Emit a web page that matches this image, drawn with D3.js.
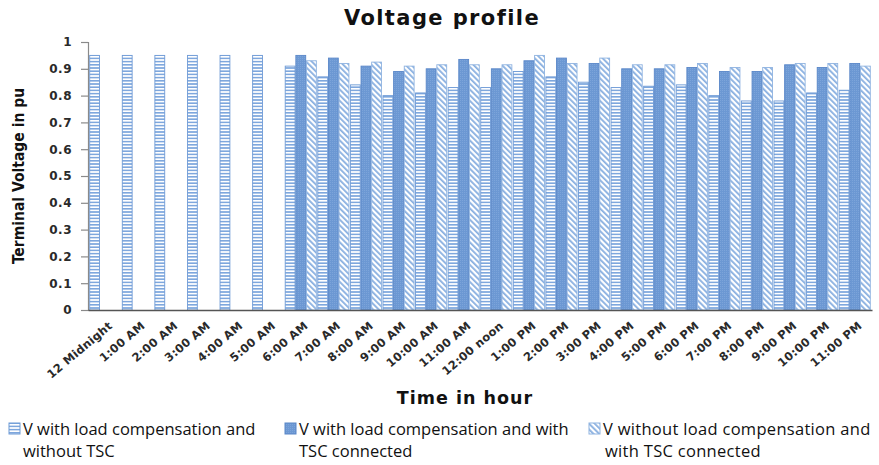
<!DOCTYPE html>
<html>
<head>
<meta charset="utf-8">
<script src="https://cdn.jsdelivr.net/npm/d3@7/dist/d3.min.js"></script>
<style>
  html, body { margin: 0; padding: 0; background: #fff; }
  svg { display: block; }
</style>
</head>
<body>
<svg id="chart" width="879" height="465"></svg>
<script>
// Hourly terminal voltage (pu) over one day
const hours = ["12 Midnight", "1:00 AM", "2:00 AM", "3:00 AM", "4:00 AM", "5:00 AM",
  "6:00 AM", "7:00 AM", "8:00 AM", "9:00 AM", "10:00 AM", "11:00 AM", "12:00 noon",
  "1:00 PM", "2:00 PM", "3:00 PM", "4:00 PM", "5:00 PM", "6:00 PM", "7:00 PM",
  "8:00 PM", "9:00 PM", "10:00 PM", "11:00 PM"];

const withLoadCompNoTSC = [0.95, 0.95, 0.95, 0.95, 0.95, 0.95,
  0.91, 0.87, 0.84, 0.80, 0.81, 0.83, 0.83, 0.89, 0.87, 0.85, 0.83, 0.835,
  0.84, 0.80, 0.78, 0.78, 0.81, 0.82];

const withLoadCompWithTSC = [null, null, null, null, null, null,
  0.95, 0.94, 0.91, 0.89, 0.90, 0.935, 0.90, 0.93, 0.94, 0.92, 0.90, 0.90,
  0.905, 0.89, 0.89, 0.915, 0.905, 0.92];

const noLoadCompWithTSC = [null, null, null, null, null, null,
  0.93, 0.92, 0.925, 0.91, 0.915, 0.915, 0.915, 0.95, 0.92, 0.94, 0.915, 0.915,
  0.92, 0.905, 0.905, 0.92, 0.92, 0.91];

const seriesNames = [
  ["V with load compensation and", "without TSC"],
  ["V with load compensation and with", "TSC connected"],
  ["V without load compensation and", "with TSC connected"]
];

const yTicks = [0, 0.1, 0.2, 0.3, 0.4, 0.5, 0.6, 0.7, 0.8, 0.9, 1];

const series = [withLoadCompNoTSC, withLoadCompWithTSC, noLoadCompWithTSC];

const svg = d3.select("#chart");
const plot = { left: 88, right: 872, top: 42, bottom: 310 };

// Fill patterns: horizontal stripes, dense solid, downward diagonal
const defs = svg.append("defs");
const pH = defs.append("pattern").attr("id", "pat-h")
  .attr("patternUnits", "userSpaceOnUse").attr("width", 4).attr("height", 3.2);
pH.append("rect").attr("width", 4).attr("height", 3.2).attr("fill", "#ffffff");
pH.append("rect").attr("y", 0).attr("width", 4).attr("height", 1.6).attr("fill", "#7ea7dd");

const pD = defs.append("pattern").attr("id", "pat-d")
  .attr("patternUnits", "userSpaceOnUse").attr("width", 4).attr("height", 4)
  .attr("patternTransform", "rotate(-45)");
pD.append("rect").attr("width", 4).attr("height", 4).attr("fill", "#ffffff");
pD.append("rect").attr("x", 0).attr("width", 1.8).attr("height", 4).attr("fill", "#88afe0");

const pS = defs.append("pattern").attr("id", "pat-s")
  .attr("patternUnits", "userSpaceOnUse").attr("width", 2).attr("height", 2);
pS.append("rect").attr("width", 2).attr("height", 2).attr("fill", "#6c98d3");
pS.append("rect").attr("width", 1).attr("height", 1).attr("fill", "#7ca4da");

const fills = ["url(#pat-h)", "url(#pat-s)", "url(#pat-d)"];
const strokes = ["#6f9bd6", "#5a87c8", "#8fb3e0"];

const x = d3.scaleBand().domain(hours).range([plot.left, plot.right])
  .paddingInner(0.02).paddingOuter(0.04);
const xs = d3.scaleBand().domain([0, 1, 2]).range([0, x.bandwidth()]).padding(0);
const y = d3.scaleLinear().domain([0, 1]).range([plot.bottom, plot.top]);

// Bars
series.forEach((vals, si) => {
  svg.append("g").selectAll("rect")
    .data(vals.map((v, i) => ({ h: hours[i], v })).filter(d => d.v !== null))
    .join("rect")
    .attr("x", d => x(d.h) + xs(si) + 0.4)
    .attr("y", d => y(d.v))
    .attr("width", xs.bandwidth() - 0.8)
    .attr("height", d => y(0) - y(d.v))
    .attr("fill", fills[si])
    .attr("stroke", strokes[si])
    .attr("stroke-width", 0.9);
});

// Y axis
const yAxis = d3.axisLeft(y).tickValues(yTicks)
  .tickFormat(d => d === 0 || d === 1 ? d3.format("d")(d) : d3.format(".1f")(d))
  .tickSize(7).tickPadding(9);
const gy = svg.append("g").attr("transform", `translate(${plot.left},0)`).call(yAxis);
gy.select(".domain").attr("stroke", "#8a8a8a").attr("stroke-width", 1.2);
gy.selectAll(".tick line").attr("stroke", "#8a8a8a").attr("stroke-width", 1.2);
gy.selectAll(".tick text")
  .attr("font-family", "DejaVu Sans, Verdana, sans-serif")
  .attr("font-size", 12).attr("font-weight", "bold").attr("fill", "#2a2a2a")
  .attr("letter-spacing", 0.5);

// X axis
const xAxis = d3.axisBottom(x).tickSize(0).tickPadding(0);
const gx = svg.append("g").attr("transform", `translate(0,${plot.bottom})`).call(xAxis);
gx.select(".domain").attr("stroke", "#555").attr("stroke-width", 1.6);
gx.selectAll(".tick text")
  .attr("font-family", "DejaVu Sans, Verdana, sans-serif")
  .attr("font-size", 11.5).attr("font-weight", "bold").attr("fill", "#2a2a2a")
  .attr("letter-spacing", 0.3)
  .attr("text-anchor", "end")
  .attr("dy", 0)
  .attr("transform", "translate(8,17) rotate(-40)");

// Titles
svg.append("text").attr("x", 442).attr("y", 25).attr("text-anchor", "middle")
  .attr("font-family", "DejaVu Sans, Verdana, sans-serif").attr("font-weight", "bold")
  .attr("font-size", 21).attr("letter-spacing", 1.4).attr("fill", "#111")
  .text("Voltage profile");

svg.append("text").attr("transform", "translate(24,176) rotate(-90)")
  .attr("text-anchor", "middle")
  .attr("font-family", "Liberation Sans Narrow, DejaVu Sans Condensed, sans-serif")
  .attr("font-weight", "bold").attr("font-size", 15.5).attr("fill", "#111")
  .text("Terminal Voltage in pu");

svg.append("text").attr("x", 465).attr("y", 404).attr("text-anchor", "middle")
  .attr("font-family", "DejaVu Sans, Verdana, sans-serif").attr("font-weight", "bold")
  .attr("font-size", 17.5).attr("letter-spacing", 1).attr("fill", "#111")
  .text("Time in hour");

// Legend
const legendX = [9, 285, 589];
const lg = svg.append("g");
seriesNames.forEach((lines, i) => {
  lg.append("rect").attr("x", legendX[i]).attr("y", 423).attr("width", 11).attr("height", 11)
    .attr("fill", fills[i]).attr("stroke", strokes[i]).attr("stroke-width", 1);
  lines.forEach((t, j) => {
    lg.append("text").attr("x", legendX[i] + 14 + (i === 2 && j === 1 ? 2 : 0))
      .attr("y", 435 + j * 22)
      .attr("font-family", "Open Sans, sans-serif").attr("font-size", 16.5)
      .attr("letter-spacing", i === 2 ? 0.3 : 0)
      .attr("fill", "#111").text(t);
  });
});
</script>
</body>
</html>
